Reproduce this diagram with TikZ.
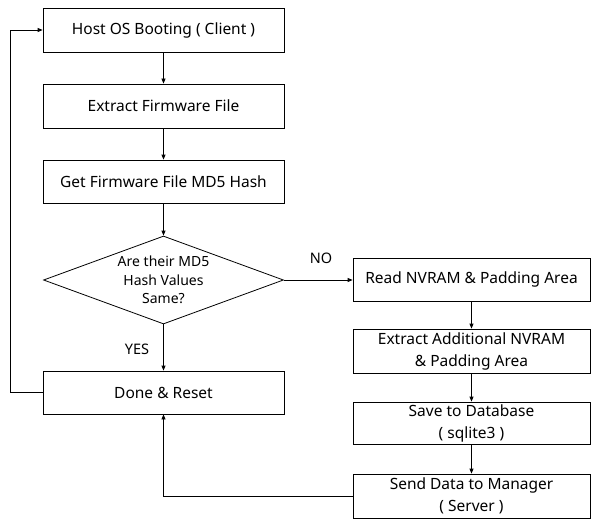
\documentclass[tikz,border=0pt]{standalone}
\usepackage{fontspec}
\setmainfont{Noto Sans}
\usetikzlibrary{shapes.geometric,arrows.meta}
\begin{document}
\begin{tikzpicture}[x=1pt,y=-1pt,
  box/.style={draw, line width=0.8pt, rectangle, inner sep=0pt, align=center, font=\fontsize{15.5}{22}\selectfont},
  lbox/.style={box, minimum width=241pt},
  rbox/.style={box, minimum width=237pt},
  dec/.style={draw, line width=0.8pt, diamond, inner sep=0pt, minimum width=240pt, minimum height=88pt},
  dectext/.style={align=center, inner sep=0pt, font=\fontsize{14}{18.3}\selectfont},
  lab/.style={font=\fontsize{14.5}{16}\selectfont},
  arr/.style={draw, line width=0.8pt, -{Triangle[length=5pt,width=4pt]}}]
\useasboundingbox (0,0) rectangle (592,519);
\node[lbox, minimum height=44pt] (host) at (163.5,30) {Host OS Booting ( Client )};
\node[lbox, minimum height=44pt] (extract) at (163.5,106) {Extract Firmware File};
\node[lbox, minimum height=43pt] (hash) at (163.5,181.5) {Get Firmware File MD5 Hash};
\node[dec] (same) at (163.5,280) {};
\node[dectext] (sametext) at (same.center) {Are their MD5\\Hash Values\\Same?};
\node[lbox, minimum height=43pt] (done) at (163.5,392.5) {Done \& Reset};
\node[rbox, minimum height=43pt] (read) at (471.5,279.5) {Read NVRAM \& Padding Area};
\node[rbox, minimum height=44pt] (extadd) at (471.5,351) {Extract Additional NVRAM\\\& Padding Area};
\node[rbox, minimum height=42pt] (save) at (471.5,423) {Save to Database\\( sqlite3 )};
\node[rbox, minimum height=44pt] (send) at (471.5,496) {Send Data to Manager\\( Server )};
\node[lab] (yes) at (137,349) {YES};
\node[lab] (no) at (321,258) {NO};
\coordinate (lp1) at (10,392.5);
\coordinate (lp2) at (10,30);
\coordinate (bt) at (163.5,496);
\draw[arr] (host) -- (extract);
\draw[arr] (extract) -- (hash);
\draw[arr] (hash) -- (same.north);
\draw[arr] (same.south) -- (done);
\draw[arr] (same.east) -- (read.west |- same.east);
\draw[arr] (read) -- (extadd);
\draw[arr] (extadd) -- (save);
\draw[arr] (save) -- (send);
\draw[arr] (send.west) -- (bt) -- (done.south);
\draw[arr] (done.west) -- (lp1) -- (lp2) -- (host.west);
\end{tikzpicture}
\end{document}
